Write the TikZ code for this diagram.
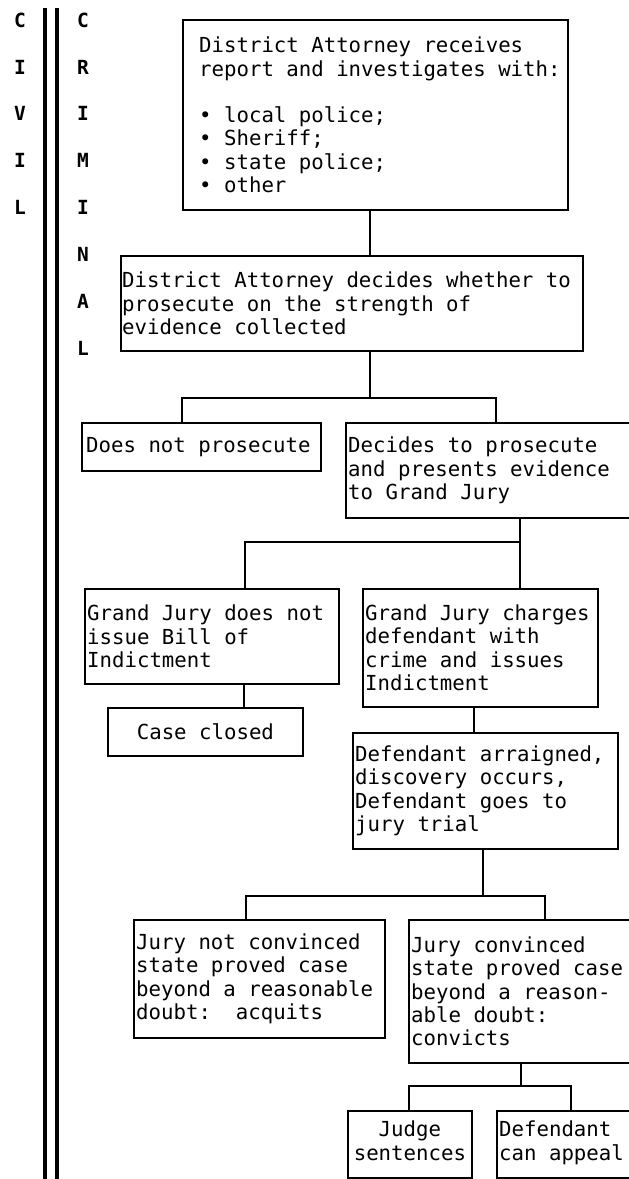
\documentclass[tikz,border=0pt]{standalone}
\usepackage{fontspec}
\newfontfamily\monof{DejaVu Sans Mono}
\begin{document}
\begin{tikzpicture}[x=1pt,y=-1pt,
  box/.style={draw, line width=1.8pt, anchor=north west, inner sep=0pt},
  txt/.style={align=left, inner sep=0pt, font=\monof\fontsize{20.7}{23.3}\selectfont},
  ctxt/.style={txt, align=center},
  letter/.style={font=\monof\bfseries\fontsize{19.5}{20}\selectfont, inner sep=0pt},
  conn/.style={line width=1.8pt},
  rulel/.style={line width=3.2pt}]
\useasboundingbox (0,0) rectangle (629,1179);
\clip (0,0) rectangle (629,1179);

% divider
\draw[rulel] (45,8) -- (45,1179);
\draw[rulel] (57,8) -- (57,1179);

% letters
\foreach \l [count=\i from 0] in {C,I,V,I,L}
  \node[letter] (cv\i) at (20,{20+46.9*\i}) {\l};
\foreach \l [count=\i from 0] in {C,R,I,M,I,N,A,L}
  \node[letter] (cr\i) at (83,{20+46.9*\i}) {\l};

% boxes
\node[box, minimum width=385, minimum height=190] (b1) at (182,19) {};
\node[txt, anchor=west] (t1) at ([xshift=17]b1.west) {District Attorney receives\\report and investigates with:\\[23.3pt]%
\textbullet{} local police;\\\textbullet{} Sheriff;\\\textbullet{} state police;\\\textbullet{} other};

\node[box, minimum width=462, minimum height=95] (b2) at (120,255) {};
\node[txt, anchor=west] (t2) at ([xshift=2]b2.west) {District Attorney decides whether to\\prosecute on the strength of\\evidence collected};

\node[box, minimum width=239, minimum height=48] (b3) at (81,422) {};
\node[txt, anchor=west] (t3) at ([xshift=5]b3.west) {Does not prosecute};

\node[box, minimum width=295, minimum height=95] (b4) at (345,422) {};
\node[txt, anchor=west] (t4) at ([xshift=3]b4.west) {Decides to prosecute\\and presents evidence\\to Grand Jury};

\node[box, minimum width=254, minimum height=95] (b5) at (84,588) {};
\node[txt, anchor=west] (t5) at ([xshift=3]b5.west) {Grand Jury does not\\issue Bill of\\Indictment};

\node[box, minimum width=235, minimum height=118] (b6) at (362,588) {};
\node[txt, anchor=west] (t6) at ([xshift=3]b6.west) {Grand Jury charges\\defendant with\\crime and issues\\Indictment};

\node[box, minimum width=195, minimum height=48] (cc) at (107,707) {};
\node[ctxt] (tcc) at (cc.center) {Case closed};

\node[box, minimum width=265, minimum height=116] (b7) at (352,732) {};
\node[txt, anchor=west] (t7) at ([xshift=3]b7.west) {Defendant arraigned,\\discovery occurs,\\Defendant goes to\\jury trial};

\node[box, minimum width=251, minimum height=118] (b8) at (133,919) {};
\node[txt, anchor=west] (t8) at ([xshift=3]b8.west) {Jury not convinced\\state proved case\\beyond a reasonable\\doubt:\ \ acquits};

\node[box, minimum width=232, minimum height=143] (b9) at (408,919) {};
\node[txt, anchor=west] (t9) at ([xshift=3]b9.west) {Jury convinced\\state proved case\\beyond a reason-\\able doubt:\\convicts};

\node[box, minimum width=124, minimum height=67] (b10) at (347,1110) {};
\node[ctxt, anchor=north] (t10) at ([yshift=-11]b10.north) {Judge\\sentences};

\node[box, minimum width=144, minimum height=67] (b11) at (496,1110) {};
\node[txt, anchor=north west] (t11) at ([xshift=3,yshift=-11]b11.north west) {Defendant\\can appeal};

% connector coordinates
\coordinate (x1) at (370,0);
\coordinate (j1l) at (182,398);
\coordinate (j1r) at (496,398);
\coordinate (x2) at (520,542);
\coordinate (j2l) at (245,542);
\coordinate (x3) at (244,0);
\coordinate (x4) at (474,0);
\coordinate (x5) at (483,896);
\coordinate (j3l) at (246,896);
\coordinate (j3r) at (545,896);
\coordinate (x6) at (521,1086);
\coordinate (j4l) at (409,1086);
\coordinate (j4r) at (571,1086);

% connectors
\draw[conn] (b1.south -| x1) -- (b2.north -| x1);
\draw[conn] (b2.south -| x1) -- (j1l -| x1);
\draw[conn] (b3.north -| j1l) -- (j1l) -- (j1r) -- (b4.north -| j1r);
\draw[conn] (b4.south -| x2) -- (x2);
\draw[conn] (b5.north -| j2l) -- (j2l) -- (x2) -- (b6.north -| x2);
\draw[conn] (b5.south -| x3) -- (cc.north -| x3);
\draw[conn] (b6.south -| x4) -- (b7.north -| x4);
\draw[conn] (b7.south -| x5) -- (x5);
\draw[conn] (b8.north -| j3l) -- (j3l) -- (j3r) -- (b9.north -| j3r);
\draw[conn] (b9.south -| x6) -- (x6);
\draw[conn] (b10.north -| j4l) -- (j4l) -- (j4r) -- (b11.north -| j4r);
\end{tikzpicture}
\end{document}
